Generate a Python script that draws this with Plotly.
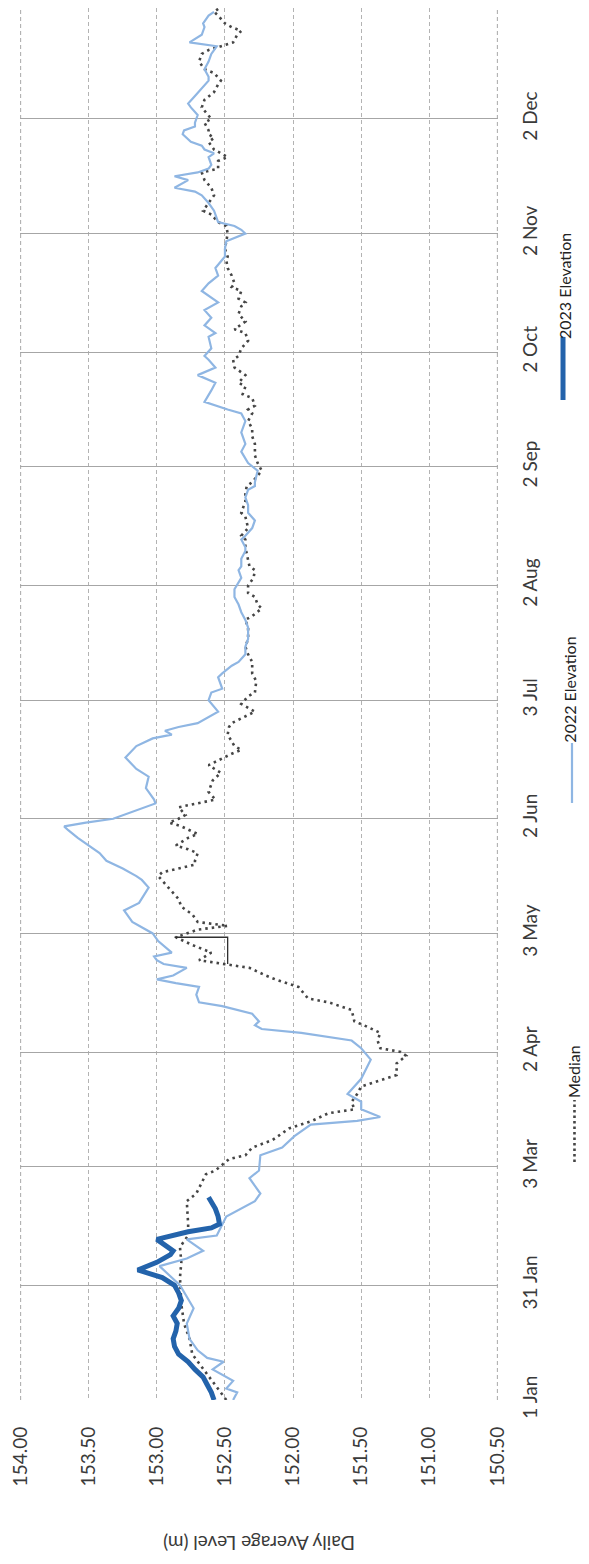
import plotly.graph_objects as go
from datetime import date, timedelta

BASE = date(2023, 1, 1)

# ---- data (day offset from 1 Jan, level in m) ----
median_days = [0, 8, 12, 16, 20, 25, 30, 32, 36, 40, 43, 46, 52,
               54, 59, 60, 63, 64, 66, 68, 71, 73, 75, 76, 78, 80, 82, 84, 85, 88, 90, 91, 92, 94, 96, 98, 99,
               102, 104, 105, 108, 110, 111, 113, 114, 115,
               117, 119, 121, 123, 124, 125, 127, 129, 131, 133, 135, 137, 138, 139, 140, 141, 143, 144, 145,
               147, 148, 150, 151, 152, 153, 155, 157, 159, 162, 164, 166, 169, 170, 171, 174, 176, 177,
               180, 182, 184, 185, 188, 190, 193, 195, 197, 199, 202, 204, 205, 207, 208, 210, 211, 213, 215,
               217, 218, 220, 223, 225, 226, 228, 231, 232, 235, 237, 239,
               240, 243, 245, 247, 250, 252, 254, 256, 258, 259, 260, 262, 263, 265, 266, 268, 270, 272, 273,
               275, 277, 279, 280, 282, 284, 286, 287, 288, 290, 291, 292, 294, 296, 298, 299, 301, 303,
               305, 307, 308, 310, 311, 313, 315, 317, 319, 321, 322, 324, 325, 327, 329, 330, 331, 332, 334,
               335, 337, 338, 340, 342, 344, 345, 347, 348, 350, 352, 353, 354, 355, 357, 358, 359, 360, 362,
               363, 364]
median_vals = [152.49, 152.66, 152.74, 152.76, 152.80, 152.82, 152.83, 152.83, 152.82, 152.83, 152.77, 152.77, 152.78,
               152.71, 152.64, 152.57, 152.47, 152.35, 152.30, 152.15, 152.03, 151.86, 151.74, 151.55, 151.57,
               151.53, 151.50, 151.33, 151.24, 151.24, 151.17, 151.21, 151.36, 151.38, 151.36, 151.48, 151.55,
               151.57, 151.74, 151.89, 151.96, 152.13, 152.20, 152.32, 152.52, 152.69,
               152.60, 152.74, 152.86, 152.70, 152.48, 152.70, 152.74, 152.82, 152.84, 152.89, 152.94, 152.99,
               152.96, 152.84, 152.72, 152.72, 152.70, 152.77, 152.86,
               152.77, 152.70, 152.82, 152.91, 152.84, 152.79, 152.84, 152.57, 152.62, 152.59, 152.53, 152.62,
               152.45, 152.38, 152.43, 152.48, 152.47, 152.45,
               152.28, 152.38, 152.33, 152.28, 152.27, 152.30, 152.30, 152.33, 152.35, 152.33, 152.33, 152.35,
               152.30, 152.23, 152.26, 152.28, 152.33, 152.33, 152.29,
               152.28, 152.32, 152.33, 152.35, 152.35, 152.38, 152.33, 152.35, 152.38, 152.35, 152.35, 152.34,
               152.30, 152.23, 152.26, 152.28, 152.28, 152.30, 152.30, 152.33, 152.30, 152.33, 152.28, 152.30,
               152.37, 152.35, 152.40, 152.35, 152.43, 152.44, 152.40,
               152.38, 152.33, 152.35, 152.43, 152.35, 152.40, 152.38, 152.35, 152.40, 152.38, 152.45, 152.43,
               152.45, 152.48, 152.49, 152.48, 152.50, 152.49,
               152.48, 152.49, 152.55, 152.60, 152.66, 152.62, 152.58, 152.60, 152.65, 152.67, 152.55, 152.55,
               152.48, 152.58, 152.62, 152.58, 152.62, 152.62, 152.65,
               152.60, 152.65, 152.67, 152.65, 152.58, 152.55, 152.53, 152.58, 152.65, 152.69, 152.67, 152.62,
               152.53, 152.44, 152.41, 152.38, 152.45, 152.50, 152.55,
               152.58, 152.54]

e2022_days = [0, 2, 3, 5, 8, 10, 11, 13, 16, 20, 24, 27, 30, 35, 37, 39, 42, 43, 48, 52,
              54, 58, 60, 64, 66, 69, 72, 73, 74, 76, 78, 80, 84, 89, 92, 94, 96, 97, 98, 99, 101, 103,
              104, 106, 108, 109, 110, 111, 113, 114, 115,
              116, 117, 120, 122, 125, 128, 130, 134, 136, 137, 139, 141, 143, 145, 147, 149, 150, 151, 152,
              156, 157, 160, 163, 165, 168, 171, 173, 174, 175, 176, 177,
              180, 183, 185, 186, 189, 190, 192, 193, 195, 197, 199, 202, 204, 206, 208, 210, 212, 214, 215,
              217, 218, 220, 222, 223, 225, 226, 228, 230, 232, 234, 236, 238, 239,
              240, 243, 245, 248, 250, 253, 256, 258, 259, 260, 261, 264, 266, 268, 270, 272, 273, 275, 278,
              279, 281, 283, 285, 287, 290, 292, 294, 296, 298, 299, 301, 303,
              305, 306, 307, 308, 311, 313, 315, 316, 317, 318, 319, 320, 321, 322, 323, 325, 326, 327, 328,
              329, 331, 332, 333, 334, 336, 338, 339, 341, 343, 345, 346, 348, 350, 352, 353, 354, 355, 357,
              359, 360, 362, 363]
e2022_vals = [152.44, 152.41, 152.49, 152.44, 152.59, 152.51, 152.63, 152.70, 152.76, 152.78, 152.73, 152.78,
              152.83, 152.98, 152.78, 152.66, 152.78, 152.56, 152.49, 152.28,
              152.24, 152.32, 152.25, 152.24, 152.08, 151.99, 151.87, 151.53, 151.36, 151.50, 151.50, 151.60,
              151.50, 151.43, 151.50, 151.57, 151.94, 152.23, 152.28, 152.25, 152.30, 152.52,
              152.69, 152.71, 152.69, 152.86, 153.00, 152.88, 152.78, 152.95, 153.00,
              153.02, 152.89, 152.99, 153.03, 153.18, 153.24, 153.13, 153.06, 153.11, 153.15, 153.25, 153.37,
              153.42, 153.50, 153.58, 153.65, 153.68, 153.52, 153.32,
              153.01, 153.02, 153.08, 153.06, 153.15, 153.23, 153.15, 153.03, 152.89, 152.94, 152.84, 152.70,
              152.55, 152.62, 152.60, 152.52, 152.55, 152.52, 152.45, 152.40, 152.35, 152.35, 152.33, 152.33,
              152.35, 152.38, 152.40, 152.43, 152.43, 152.40, 152.38,
              152.40, 152.38, 152.38, 152.35, 152.35, 152.38, 152.35, 152.30, 152.28, 152.33, 152.33, 152.35,
              152.33, 152.28,
              152.28, 152.26, 152.33, 152.38, 152.35, 152.38, 152.35, 152.38, 152.48, 152.57, 152.65, 152.60,
              152.57, 152.70, 152.57, 152.62, 152.65, 152.60, 152.62,
              152.57, 152.65, 152.60, 152.65, 152.55, 152.67, 152.62, 152.55, 152.57, 152.52, 152.50, 152.50,
              152.49,
              152.35, 152.38, 152.43, 152.55, 152.58, 152.62, 152.67, 152.72, 152.87, 152.82, 152.77, 152.87,
              152.70, 152.62, 152.60, 152.62, 152.58, 152.65, 152.67,
              152.75, 152.81, 152.80, 152.72, 152.72, 152.70, 152.75, 152.77, 152.72, 152.67, 152.62, 152.62,
              152.65, 152.62, 152.60, 152.58, 152.56, 152.76, 152.67,
              152.65, 152.66, 152.62, 152.58]

e2023_days = [0, 2, 4, 6, 8, 10, 12, 14, 16, 18, 20, 22, 24, 26, 28, 30, 32, 34, 36, 38, 39, 41, 42,
              44, 45, 46, 48, 50, 52, 53]
e2023_vals = [152.58, 152.60, 152.63, 152.66, 152.72, 152.77, 152.84, 152.87, 152.88, 152.86, 152.85, 152.88,
              152.84, 152.82, 152.84, 152.87, 152.96, 153.14, 153.00, 152.90, 152.88, 152.97, 153.00,
              152.77, 152.60, 152.54, 152.55, 152.57, 152.60, 152.62]

step_days = [114, 121, 121]
step_vals = [152.48, 152.48, 152.87]

tick_days = [0, 30, 61, 91, 122, 152, 183, 213, 244, 274, 305, 335]
tick_labels = ["1 Jan", "31 Jan", "3 Mar", "2 Apr", "3 May", "2 Jun", "3 Jul",
               "2 Aug", "2 Sep", "2 Oct", "2 Nov", "2 Dec"]
level_ticks = [154.0, 153.5, 153.0, 152.5, 152.0, 151.5, 151.0, 150.5]

series_names = ["Median", "2022 Elevation", "2023 Elevation"]


def to_dates(days):
    return [(BASE + timedelta(days=d)).isoformat() for d in days]


FONT = "Lato"
TXT = "#3a3a3a"
C_MED = "#454545"
C_22 = "#8fb6e3"
C_23 = "#2363ab"
GRID_V = "#b3b3b3"

fig = go.Figure()
fig.add_trace(go.Scatter(x=median_vals, y=to_dates(median_days), mode="lines",
                         line=dict(color=C_MED, width=2.6, dash="2.5px,4px"),
                         name=series_names[0], showlegend=False))
fig.add_trace(go.Scatter(x=e2022_vals, y=to_dates(e2022_days), mode="lines",
                         line=dict(color=C_22, width=2.2),
                         name=series_names[1], showlegend=False))
fig.add_trace(go.Scatter(x=e2023_vals, y=to_dates(e2023_days), mode="lines",
                         line=dict(color=C_23, width=5),
                         name=series_names[2], showlegend=False))
fig.add_trace(go.Scatter(x=step_vals, y=to_dates(step_days), mode="lines",
                         line=dict(color="#303030", width=1.3),
                         showlegend=False, hoverinfo="skip"))

# the page body has an 8px margin, so the figure is sized 8px smaller and
# its margins are compensated accordingly
fig.update_layout(
    width=581, height=1556,
    margin=dict(l=12, r=91, t=0, b=164),
    paper_bgcolor="white", plot_bgcolor="white",
    font=dict(family=FONT, color=TXT),
    showlegend=False,
    xaxis=dict(
        range=[154.004, 150.496], autorange=False, automargin=False,
        tickmode="array", tickvals=level_ticks,
        ticktext=[f"{v:.2f}" for v in level_ticks],
        tickangle=-90, tickfont=dict(size=19, family=FONT, color=TXT),
        ticks="", ticklabelstandoff=22, ticklabeloverflow="allow",
        showgrid=True, gridcolor=GRID_V, gridwidth=1.2, griddash="4px,3px",
        zeroline=False, showline=False,
    ),
    yaxis=dict(
        type="date", range=["2023-01-01", "2023-12-31"], autorange=False, automargin=False,
        side="right",
        tickmode="array", tickvals=to_dates(tick_days), ticktext=tick_labels,
        tickangle=-90, tickfont=dict(size=19, family=FONT, color=TXT),
        ticks="", ticklabelstandoff=19, ticklabeloverflow="allow",
        showgrid=True, gridcolor="#a6a6a6", gridwidth=1.3,
        zeroline=False, showline=False,
    ),
)

# edge gridlines (plotly skips gridlines lying on the plot border)
for edge in (level_ticks[0], level_ticks[-1]):
    fig.add_shape(type="line", xref="x", yref="paper", x0=edge, x1=edge, y0=0, y1=1,
                  layer="below", line=dict(color=GRID_V, width=1.2, dash="4px,3px"))

# axis title (chart is rotated, so the title reads upside down)
fig.add_annotation(text="Daily Average Level (m)", xref="paper", yref="paper",
                   x=0.5, y=-0.103, xanchor="center", yanchor="middle",
                   textangle=180, showarrow=False,
                   font=dict(size=19, family=FONT, color=TXT))

# rotated legend
legend_items = [
    # (text, text_x, text_y, line_x, line_y0, line_y1, color, width, dash)
    (series_names[0], 1.1570, 0.2356, 1.1600, 0.1710, 0.2155, C_MED, 2.6, "2.5px,3px"),
    (series_names[1], 1.1500, 0.5101, 1.1548, 0.4289, 0.4720, C_22, 2.2, "solid"),
    (series_names[2], 1.1402, 0.8003, 1.1360, 0.7184, 0.7637, C_23, 5, "solid"),
]
for txt, tx, ty, lx, ly0, ly1, col, w, dsh in legend_items:
    fig.add_shape(type="line", xref="paper", yref="paper", x0=lx, x1=lx, y0=ly0, y1=ly1,
                  line=dict(color=col, width=w, dash=dsh))
    fig.add_annotation(text=txt, xref="paper", yref="paper", x=tx, y=ty,
                       xanchor="center", yanchor="middle", textangle=-90, showarrow=False,
                       font=dict(size=16, family=FONT, color="#222222"))

fig.write_html("out.html")
